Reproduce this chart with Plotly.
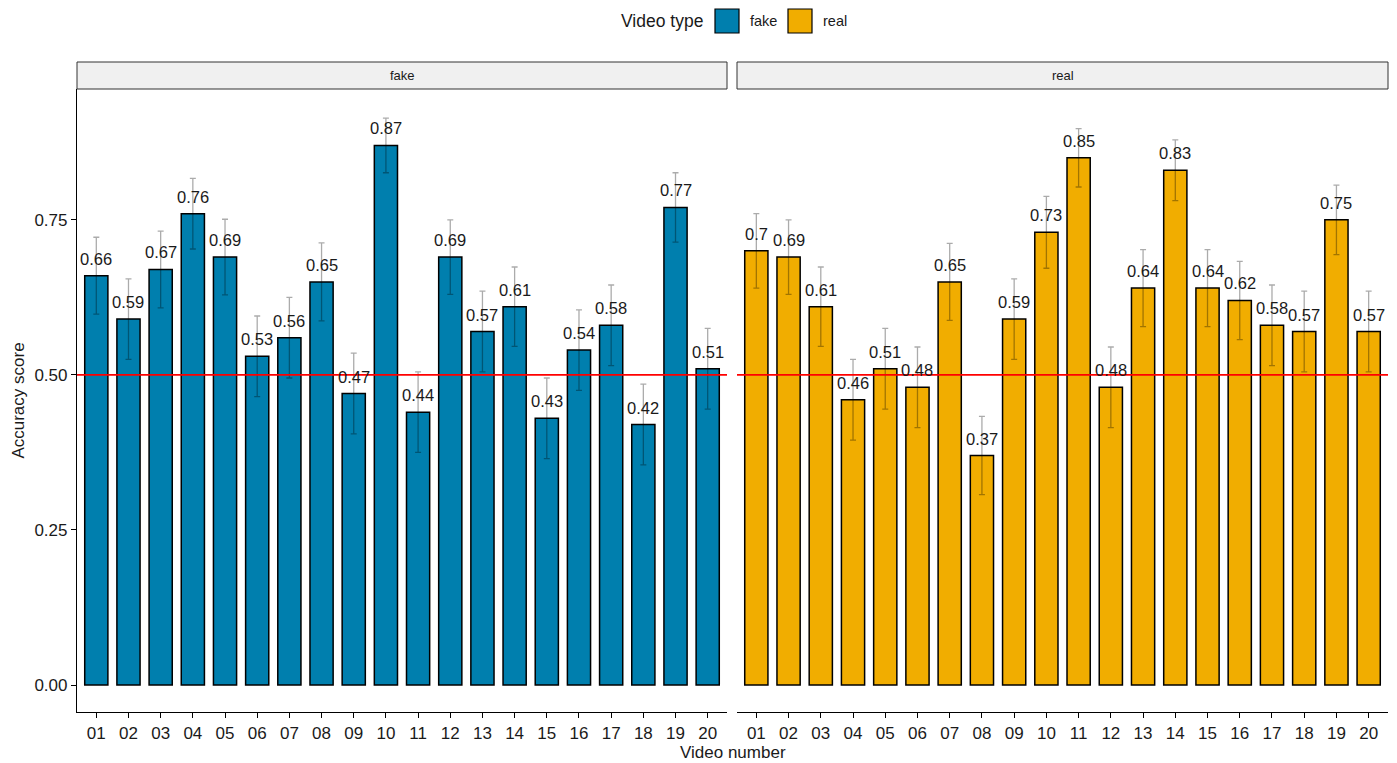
import plotly.graph_objects as go

# Video numbers shared by both facets
videos = [f"{i:02d}" for i in range(1, 21)]

# Mean accuracy per video (fake videos)
fake_acc = [0.66, 0.59, 0.67, 0.76, 0.69, 0.53, 0.56, 0.65, 0.47, 0.87,
            0.44, 0.69, 0.57, 0.61, 0.43, 0.54, 0.58, 0.42, 0.77, 0.51]
# Half-width of the confidence interval (fake videos)
fake_err = [0.062, 0.065, 0.062, 0.057, 0.061, 0.065, 0.065, 0.063, 0.065, 0.044,
            0.065, 0.060, 0.065, 0.064, 0.065, 0.065, 0.065, 0.065, 0.056, 0.065]

# Mean accuracy per video (real videos)
real_acc = [0.70, 0.69, 0.61, 0.46, 0.51, 0.48, 0.65, 0.37, 0.59, 0.73,
            0.85, 0.48, 0.64, 0.83, 0.64, 0.62, 0.58, 0.57, 0.75, 0.57]
# Half-width of the confidence interval (real videos)
real_err = [0.060, 0.060, 0.064, 0.065, 0.065, 0.065, 0.062, 0.063, 0.065, 0.058,
            0.047, 0.065, 0.062, 0.049, 0.062, 0.063, 0.065, 0.065, 0.056, 0.065]

y_ticks = [0.0, 0.25, 0.50, 0.75]
chance_level = 0.5

FAKE_COL = "#007FAE"
REAL_COL = "#F1AD00"
FONT = "Liberation Sans, Arial, Helvetica, sans-serif"
INK = "#1A1A1A"

W, H = 1397, 763
ML, MR, MT, MB = 77, 9, 89, 51
PW, PH = W - ML - MR, H - MT - MB


def px_x(p):
    return (p - ML) / PW


def px_y(p):
    return (H - MB - p) / PH


fig = go.Figure()

panels = [("fake", fake_acc, fake_err, FAKE_COL, "x", "y"),
          ("real", real_acc, real_err, REAL_COL, "x2", "y2")]

for name, acc, err, col, xa, ya in panels:
    fig.add_trace(go.Bar(
        x=videos, y=acc, name=name, width=0.72,
        marker=dict(color=col, line=dict(color="black", width=1.5)),
        error_y=dict(type="data", array=err, visible=True,
                     color="rgba(0,0,0,0.33)", thickness=1.3, width=3),
        xaxis=xa, yaxis=ya, showlegend=False,
    ))
    # value labels sitting just above each bar (x given as category index)
    for idx, a in enumerate(acc):
        fig.add_annotation(x=idx, y=a, xref=xa, yref=ya, text=f"{a:g}",
                           showarrow=False, yanchor="bottom", xanchor="center",
                           yshift=6,
                           font=dict(family=FONT, size=16.5, color=INK))

xcommon = dict(type="category", range=[-0.6, 19.6], showline=True,
               linecolor="black", linewidth=1.2, ticks="outside", ticklen=5,
               tickwidth=1.2, tickcolor="black", showgrid=False, zeroline=False,
               tickfont=dict(family=FONT, size=17, color=INK))
ycommon = dict(range=[-0.0435, 0.961], showgrid=False, zeroline=False)

split = 650 / PW
gap = 660 / PW
fig.update_layout(
    width=W, height=H,
    margin=dict(l=ML, r=MR, t=MT, b=MB, pad=0),
    plot_bgcolor="white", paper_bgcolor="white",
    font=dict(family=FONT, color=INK),
    xaxis=dict(xcommon, domain=[0, split], anchor="y"),
    xaxis2=dict(xcommon, domain=[gap, 1], anchor="y2"),
    yaxis=dict(ycommon, domain=[0, 1], anchor="x", showline=True,
               linecolor="black", linewidth=1.2, ticks="outside", ticklen=5,
               tickwidth=1.2, tickcolor="black", tickvals=y_ticks,
               tickformat=".2f", tickfont=dict(family=FONT, size=17, color=INK),
               title=dict(text="Accuracy score", standoff=5,
                          font=dict(family=FONT, size=17, color=INK))),
    yaxis2=dict(ycommon, domain=[0, 1], anchor="x2", matches="y",
                showline=False, showticklabels=False, ticks=""),
)

# Chance-level reference line in each facet
for xr, yr in [("x domain", "y"), ("x2 domain", "y2")]:
    fig.add_shape(type="line", xref=xr, yref=yr, x0=0, x1=1,
                  y0=chance_level, y1=chance_level,
                  line=dict(color="#FF0000", width=1.6), layer="above")

# Facet strips
strip_top = px_y(62)
for label, x0, x1 in [("fake", 77, 727), ("real", 737, 1388)]:
    fig.add_shape(type="rect", xref="paper", yref="paper",
                  x0=px_x(x0), x1=px_x(x1), y0=1, y1=strip_top,
                  fillcolor="#F0F0F0", line=dict(color="#333333", width=1))
    fig.add_annotation(xref="paper", yref="paper", x=px_x((x0 + x1) / 2),
                       y=(1 + strip_top) / 2, text=label, showarrow=False,
                       font=dict(family=FONT, size=13, color=INK),
                       xanchor="center", yanchor="middle")

# Shared x-axis title
fig.add_annotation(xref="paper", yref="paper", x=px_x(732.5), y=px_y(752),
                   text="Video number", showarrow=False,
                   font=dict(family=FONT, size=17, color=INK),
                   xanchor="center", yanchor="middle")

# Legend
fig.add_annotation(xref="paper", yref="paper", x=px_x(705), y=px_y(21),
                   text="Video type", showarrow=False,
                   font=dict(family=FONT, size=17.5, color=INK),
                   xanchor="right", yanchor="middle")
for label, col, bx, tx in [("fake", FAKE_COL, 715, 748), ("real", REAL_COL, 788, 821)]:
    fig.add_shape(type="rect", xref="paper", yref="paper",
                  x0=px_x(bx), x1=px_x(bx + 24), y0=px_y(9), y1=px_y(33),
                  fillcolor=col, line=dict(color="black", width=1.2))
    fig.add_annotation(xref="paper", yref="paper", x=px_x(tx), y=px_y(21),
                       text=label, showarrow=False,
                       font=dict(family=FONT, size=14.5, color=INK),
                       xanchor="left", yanchor="middle")

fig.write_html("out.html")
